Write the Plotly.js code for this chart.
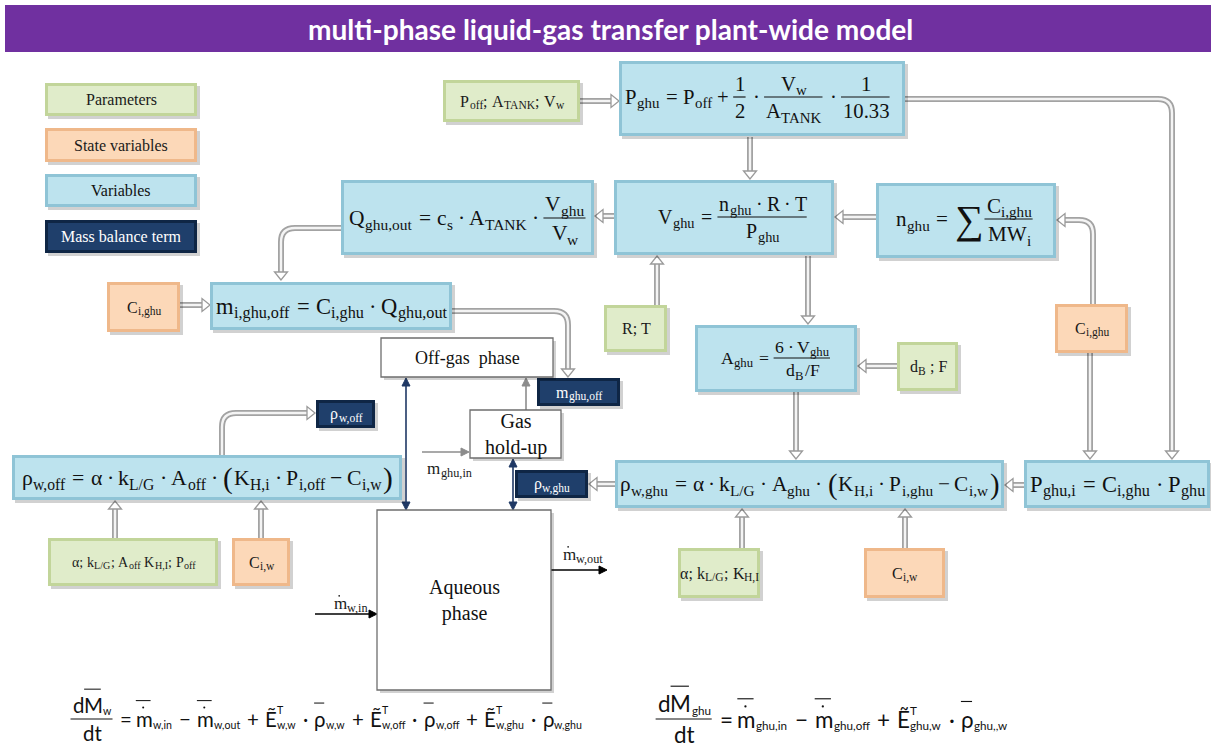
<!DOCTYPE html>
<html><head><meta charset="utf-8">
<script src="https://cdn.plot.ly/plotly-3.0.1.min.js"></script>
<style>html,body{margin:0;padding:0;background:#fff;overflow:hidden}#chart{width:1211px;height:751px}</style>
</head><body><div id="chart"></div>
<script>
// ---------------- content (text values) ----------------
const NB = '\u00a0';
const S = (b, s) => ({b, s});
const titleText = 'multi-phase liquid-gas transfer plant-wide model';
const legendLabels = ['Parameters', 'State variables', 'Variables', 'Mass balance term'];
const legendKinds = ['param', 'state', 'var', 'mass'];
const parameterLabels = [
  [S('P','off'), ';' + NB, S('A','TANK'), ';' + NB, S('V','w')],
  ['R;' + NB + 'T'],
  [S('d','B'), NB + ';' + NB + 'F'],
  ['α;' + NB, S('k','L/G'), ';' + NB, S('A','off'), NB, S('K','H,I'), ';' + NB, S('P','off')],
  ['α;' + NB, S('k','L/G'), ';' + NB, S('K','H,I')]];
const stateLabels = [[S('C','i,ghu')], [S('C','i,ghu')], [S('C','i,w')], [S('C','i,w')]];
const massBalanceLabels = [[S('m','ghu,off')], [S('ρ','w,off')], [S('ρ','w,ghu')]];
const phaseLabels = ['Off-gas' + NB + NB + 'phase', 'Gas<br>hold-up', 'Aqueous<br>phase'];
const flowLabels = [[S('m','ghu,in')], [{b:'m', dot:1, s:'w,out'}], [{b:'m', dot:1, s:'w,in'}]];

// equation tokens: string = text/operator, {b,s,p,o,dot} = symbol with sub/sup/overline/dot,
// {f,d} = fraction, {big,k} = enlarged glyph
const eqPghu = [S('P','ghu'), '=', S('P','off'), '+', {f:['1'], d:['2']}, '·', {f:[S('V','w')], d:[S('A','TANK')]}, '·', {f:['1'], d:['10.33']}];
const eqQout = [S('Q','ghu,out'), '=', S('c','s'), '·', S('A','TANK'), '·', {f:[S('V','ghu')], d:[S('V','w')]}];
const eqVghu = [S('V','ghu'), '=', {f:[S('n','ghu'), '·', 'R', '·', 'T'], d:[S('P','ghu')]}];
const eqNghu = [S('n','ghu'), '=', {big:'∑', k:1.9}, {f:[S('C','i,ghu')], d:[S('MW','i')]}];
const eqMoff = [S('m','i,ghu,off'), '=', S('C','i,ghu'), '·', S('Q','ghu,out')];
const eqAghu = [S('A','ghu'), '=', {f:['6', '·', S('V','ghu')], d:[S('d','B'), '/F']}];
const eqRhoOff = [S('ρ','w,off'), '=', 'α', '·', S('k','L/G'), '·', S('A','off'), '·', {big:'(', k:1.35}, S('K','H,i'), '·', S('P','i,off'), '−', S('C','i,w'), {big:')', k:1.35}];
const eqRhoGhu = [S('ρ','w,ghu'), '=', 'α', '·', S('k','L/G'), '·', S('A','ghu'), '·', {big:'(', k:1.35}, S('K','H,i'), '·', S('P','i,ghu'), '−', S('C','i,w'), {big:')', k:1.35}];
const eqPghuI = [S('P','ghu,i'), '=', S('C','i,ghu'), '·', S('P','ghu')];
const eqBalanceW = [{f:['d', {b:'M', o:1, s:'w'}], d:['dt']}, '=', {b:'m', dot:1, o:1, s:'w,in'}, '−', {b:'m', dot:1, o:1, s:'w,out'}, '+',
  {b:'Ẽ', p:'T', s:'w,w'}, '·', {b:'ρ', o:1, s:'w,w'}, '+', {b:'Ẽ', p:'T', s:'w,off'}, '·', {b:'ρ', o:1, s:'w,off'}, '+',
  {b:'Ẽ', p:'T', s:'w,ghu'}, '·', {b:'ρ', o:1, s:'w,ghu'}];
const eqBalanceGhu = [{f:['d', {b:'M', o:1, s:'ghu'}], d:['dt']}, '=', {b:'m', dot:1, o:1, s:'ghu,in'}, '−', {b:'m', dot:1, o:1, s:'ghu,off'}, '+',
  {b:'Ẽ', p:'T', s:'ghu,w'}, '·', {b:'ρ', o:1, s:'ghu,,w'}];

// ---------------- layout geometry (pixel positions) ----------------
const legendBoxes = [[45,83,197,116],[45,128,197,162],[45,174,197,207],[45,220,197,253]];
const paramBoxes = [[443,80,580,122],[604,305,667,352],[897,342,958,391],[48,538,218,586],[678,548,760,598]];
const stateBoxes = [[107,282,180,332],[1055,304,1128,353],[232,538,290,586],[864,548,945,598]];
const massBoxes = [[537,378,620,406],[316,400,375,428],[515,470,588,498]];
const phaseBoxes = [[381,338,553,377],[470,410,561,458],[377,510,551,690]];
const varBoxes = [[619,61,905,136],[341,180,594,255],[614,180,834,255],[876,183,1056,258],[210,282,452,330],
  [695,325,857,392],[12,455,402,500],[615,460,1004,508],[1024,460,1210,508]];
const flowPos = [[449,468],[582,554],[350,603]];

const MATH = {fam:'Liberation Serif', color:'#111', sk:0.72, sd:0.30, pd:0.42, fn:0.64, fd:0.70, bar:0.0, oy:0.72, dy:0.6, ops:{'=':0.28,'+':0.2,'−':0.2,'·':0.2}};
const SANS = {fam:'Lato', color:'#111', sk:0.52, sd:0.28, pd:0.42, fn:0.68, fd:0.70, bar:0.0, oy:0.78, dy:0.56, ops:{'=':0.2,'+':0.3,'−':0.3,'·':0.3}};
const LBL = {fam:'Liberation Serif', color:'#1a1a1a', sk:0.72, sd:0.28, pd:0.4, fn:0.6, fd:0.6, bar:0, oy:0.7, dy:0.42, ops:{}};
const LBLW = Object.assign({}, LBL, {color:'#ffffff'});
const eqPlaces = [
  [eqPghu, 758, 97, 268, MATH], [eqQout, 468, 218, 240, MATH], [eqVghu, 733, 217, 152, MATH],
  [eqNghu, 965, 219, 140, MATH], [eqMoff, 331, 306, 232, MATH], [eqAghu, 776, 358, 112, MATH],
  [eqRhoOff, 207, 478, 372, MATH], [eqRhoGhu, 809, 484, 380, MATH], [eqPghuI, 1117, 484, 176, MATH],
  [eqBalanceW, 326, 719, 513, SANS], [eqBalanceGhu, 831, 719, 353, SANS]];

// hollow connector arrows (polyline, last point is the tip)
const hollowArrows = [
  [[580,101],[619,101]], [[750,137],[750,179]], [[614,216],[595,216]], [[876,217],[835,217]],
  [[341,228],[281,228],[281,280]], [[180,305],[210,305]], [[452,311],[568,311],[568,377]],
  [[657,305],[657,256]], [[808,256],[808,324]], [[897,366],[858,366]], [[796,392],[796,459]],
  [[1093,304],[1093,220],[1057,220]], [[1090,353],[1090,459]], [[905,99],[1172,99],[1172,459]],
  [[1024,485],[1005,485]], [[615,484],[589,484]], [[222,455],[222,413],[315,413]],
  [[115,538],[115,501]], [[261,538],[261,501]], [[742,548],[742,509]], [[905,548],[905,509]]];

// thin arrows: [tailX, tailY, headX, headY, color, doubleHeaded]
const thinArrows = [
  [526,410,526,378,'#8c8c8c',0], [422,452,469,452,'#8c8c8c',0], [406,378,406,510,'#1f3864',1],
  [513,459,513,510,'#1f3864',1], [551,570,607,570,'#000000',0], [315,614,377,614,'#000000',0]];

// ---------------- drawing helpers ----------------
const shapes = [], annotations = [];
const out = {shp: shapes, ann: annotations};
const ctx = document.createElement('canvas').getContext('2d');
function mw(t, sz, st, bold) { ctx.font = (bold ? 'bold ' : '') + sz + 'px "' + st.fam + '"'; return ctx.measureText(t).width; }
function txt(t, sz, st, x, y, o) {
  const w = mw(t, sz, st);
  if (o) o.ann.push({x, y, xref:'x', yref:'y', xanchor:'left', yanchor:'middle', text:t, showarrow:false, borderpad:0,
    font:{family:st.fam, size:sz, color:st.color}});
  return w;
}
function lay(tokens, sz, st, x, y, o) { let cx = x; for (const tk of tokens) cx += item(tk, sz, st, cx, y, o); return cx - x; }
function item(tk, sz, st, x, y, o) {
  if (typeof tk === 'string') {
    if (st.ops[tk] !== undefined) { const p = st.ops[tk] * sz; const w = mw(tk, sz, st); if (o) txt(tk, sz, st, x + p, y, o); return w + 2 * p; }
    return txt(tk, sz, st, x, y, o);
  }
  if (tk.big) { const s2 = sz * tk.k; const w = mw(tk.big, s2, st); if (o) txt(tk.big, s2, st, x + 0.04 * sz, y + 0.02 * sz, o); return w + 0.08 * sz; }
  if (tk.f) {
    const nw = lay(tk.f, sz, st, 0, 0, null), dw = lay(tk.d, sz, st, 0, 0, null);
    const w = Math.max(nw, dw) + 0.2 * sz;
    if (o) {
      lay(tk.f, sz, st, x + (w - nw) / 2, y - st.fn * sz, o);
      lay(tk.d, sz, st, x + (w - dw) / 2, y + st.fd * sz, o);
      o.shp.push({type:'line', xref:'x', yref:'y', x0:x + 0.05 * sz, x1:x + w - 0.05 * sz, y0:y + st.bar * sz, y1:y + st.bar * sz, line:{color:st.color, width:Math.max(1, sz * 0.055)}});
    }
    return w + 0.06 * sz;
  }
  const bw = mw(tk.b, sz, st), ss = sz * st.sk;
  const subw = tk.s ? mw(tk.s, ss, st) : 0, supw = tk.p ? mw(tk.p, ss, st) : 0;
  if (o) {
    txt(tk.b, sz, st, x, y, o);
    if (tk.s) txt(tk.s, ss, st, x + bw + 0.02 * sz, y + st.sd * sz, o);
    if (tk.p) txt(tk.p, ss, st, x + bw + 0.02 * sz, y - st.pd * sz, o);
    if (tk.o) { const oy = y - (tk.dot ? st.oy + 0.12 : st.oy) * sz; o.shp.push({type:'line', xref:'x', yref:'y', x0:x + 0.06 * bw, x1:x + 0.94 * bw, y0:oy, y1:oy, line:{color:st.color, width:Math.max(1, sz * 0.05)}}); }
    if (tk.dot) { const r = 0.05 * sz, cx = x + bw / 2, cy = y - st.dy * sz; o.shp.push({type:'circle', xref:'x', yref:'y', x0:cx - r, x1:cx + r, y0:cy - r, y1:cy + r, fillcolor:st.color, line:{width:0}}); }
  }
  return bw + Math.max(subw, supw) + (tk.s || tk.p ? 0.06 * sz : 0);
}
function tokLabel(cx, cy, tokens, size, st) { const w = lay(tokens, size, st, 0, 0, null); lay(tokens, size, st, cx - w / 2, cy, out); }
const KIND = {
  param:{outer:'#c2d59a', inner:'#e0ecca', text:'#1a1a1a'},
  state:{outer:'#efb88a', inner:'#fcd8b8', text:'#1a1a1a'},
  var:{outer:'#8fc4d6', inner:'#bde3ee', text:'#111'},
  mass:{outer:'#0f2645', inner:'#1f3f6b', text:'#ffffff'}};
function box(b, kind) {
  const [x0, y0, x1, y1] = b;
  shapes.push({type:'rect', xref:'x', yref:'y', x0:x0 + 3, y0:y0 + 3, x1:x1 + 3, y1:y1 + 3, fillcolor:'rgba(0,0,0,0.18)', line:{width:0}});
  if (kind === 'plain') { shapes.push({type:'rect', xref:'x', yref:'y', x0, y0, x1, y1, fillcolor:'#ffffff', line:{color:'#6e6e6e', width:1.3}}); return; }
  const k = KIND[kind];
  shapes.push({type:'rect', xref:'x', yref:'y', x0, y0, x1, y1, fillcolor:k.outer, line:{width:0}});
  shapes.push({type:'rect', xref:'x', yref:'y', x0:x0 + 3, y0:y0 + 3, x1:x1 - 3, y1:y1 - 3, fillcolor:k.inner, line:{width:0}});
}
function label(b, text, size, color) {
  annotations.push({x:(b[0] + b[2]) / 2, y:(b[1] + b[3]) / 2, xref:'x', yref:'y', xanchor:'center', yanchor:'middle', text, showarrow:false,
    font:{family:'Liberation Serif', size, color}});
}
function rounded(p, r) {
  let d = 'M ' + p[0][0] + ' ' + p[0][1];
  for (let i = 1; i < p.length - 1; i++) {
    const [ax, ay] = p[i - 1], [bx, by] = p[i], [cx, cy] = p[i + 1];
    const l1 = Math.hypot(bx - ax, by - ay), l2 = Math.hypot(cx - bx, cy - by), rr = Math.min(r, l1 / 2, l2 / 2);
    d += ' L ' + (bx - (bx - ax) / l1 * rr) + ' ' + (by - (by - ay) / l1 * rr) + ' Q ' + bx + ' ' + by + ' ' + (bx + (cx - bx) / l2 * rr) + ' ' + (by + (cy - by) / l2 * rr);
  }
  return d + ' L ' + p[p.length - 1][0] + ' ' + p[p.length - 1][1];
}
function head(tx, ty, ux, uy, HL, HW) {
  const bx = tx - ux * HL, by = ty - uy * HL, nx = -uy, ny = ux;
  return {base:[bx, by], path:'M ' + tx + ' ' + ty + ' L ' + (bx + nx * HW) + ' ' + (by + ny * HW) + ' L ' + (bx - nx * HW) + ' ' + (by - ny * HW) + ' Z'};
}
function hollow(pts) {
  const n = pts.length, [tx, ty] = pts[n - 1], [px, py] = pts[n - 2];
  const L = Math.hypot(tx - px, ty - py), ux = (tx - px) / L, uy = (ty - py) / L;
  const h = head(tx, ty, ux, uy, 8, 6.5);
  const d = rounded(pts.slice(0, n - 1).concat([h.base]), 14);
  shapes.push({type:'path', xref:'x', yref:'y', path:d, line:{color:'#a3a3a3', width:6}});
  shapes.push({type:'path', xref:'x', yref:'y', path:d, line:{color:'#f4f4f4', width:2.4}});
  shapes.push({type:'path', xref:'x', yref:'y', path:h.path, fillcolor:'#ffffff', line:{color:'#9a9a9a', width:1.3}});
}
function thin([ax, ay, x, y, c, dbl]) {
  const L = Math.hypot(x - ax, y - ay), ux = (x - ax) / L, uy = (y - ay) / L;
  const h1 = head(x, y, ux, uy, 8, 4);
  let s = [ax, ay];
  if (dbl) { const h0 = head(ax, ay, -ux, -uy, 8, 4); s = h0.base; shapes.push({type:'path', xref:'x', yref:'y', path:h0.path, fillcolor:c, line:{color:c, width:1}}); }
  shapes.push({type:'line', xref:'x', yref:'y', x0:s[0], y0:s[1], x1:h1.base[0], y1:h1.base[1], line:{color:c, width:1.6}});
  shapes.push({type:'path', xref:'x', yref:'y', path:h1.path, fillcolor:c, line:{color:c, width:1}});
}

// ---------------- build ----------------
shapes.push({type:'rect', xref:'x', yref:'y', x0:5, y0:5, x1:1211, y1:52, fillcolor:'#7030a0', line:{width:0}});
const TS = {fam:'Lato'};
const titleSize = 27 * 606 / mw(titleText, 27, TS, true);
annotations.push({x:610, y:29, xref:'x', yref:'y', xanchor:'center', yanchor:'middle', showarrow:false, text:'<b>' + titleText + '</b>',
  font:{family:'Lato', size:titleSize, color:'#ffffff'}});

hollowArrows.forEach(hollow);
thinArrows.forEach(thin);

legendBoxes.forEach((b, i) => { box(b, legendKinds[i]); label(b, legendLabels[i], 16, KIND[legendKinds[i]].text); });
paramBoxes.forEach((b, i) => { box(b, 'param'); tokLabel((b[0] + b[2]) / 2, (b[1] + b[3]) / 2, parameterLabels[i], i === 3 ? 14 : 16, LBL); });
stateBoxes.forEach((b, i) => { box(b, 'state'); tokLabel((b[0] + b[2]) / 2, (b[1] + b[3]) / 2, stateLabels[i], 16, LBL); });
massBoxes.forEach((b, i) => { box(b, 'mass'); tokLabel((b[0] + b[2]) / 2, (b[1] + b[3]) / 2, massBalanceLabels[i], 16, LBLW); });
phaseBoxes.forEach((b, i) => { box(b, 'plain'); label(b, phaseLabels[i], i === 0 ? 18 : 20, '#111'); });
varBoxes.forEach(b => box(b, 'var'));

eqPlaces.forEach(([tokens, cx, cy, w, st]) => {
  const nat = lay(tokens, 20, st, 0, 0, null);
  lay(tokens, 20 * w / nat, st, cx - w / 2, cy, out);
});
flowLabels.forEach((t, i) => tokLabel(flowPos[i][0], flowPos[i][1], t, 17, LBL));

Plotly.newPlot('chart', [], {
  width:1211, height:751, margin:{l:0, r:0, t:0, b:0}, paper_bgcolor:'#ffffff', plot_bgcolor:'#ffffff', showlegend:false,
  xaxis:{range:[0,1211], visible:false, fixedrange:true}, yaxis:{range:[751,0], visible:false, fixedrange:true},
  shapes, annotations
}, {staticPlot:true, displayModeBar:false});
</script></body></html>
